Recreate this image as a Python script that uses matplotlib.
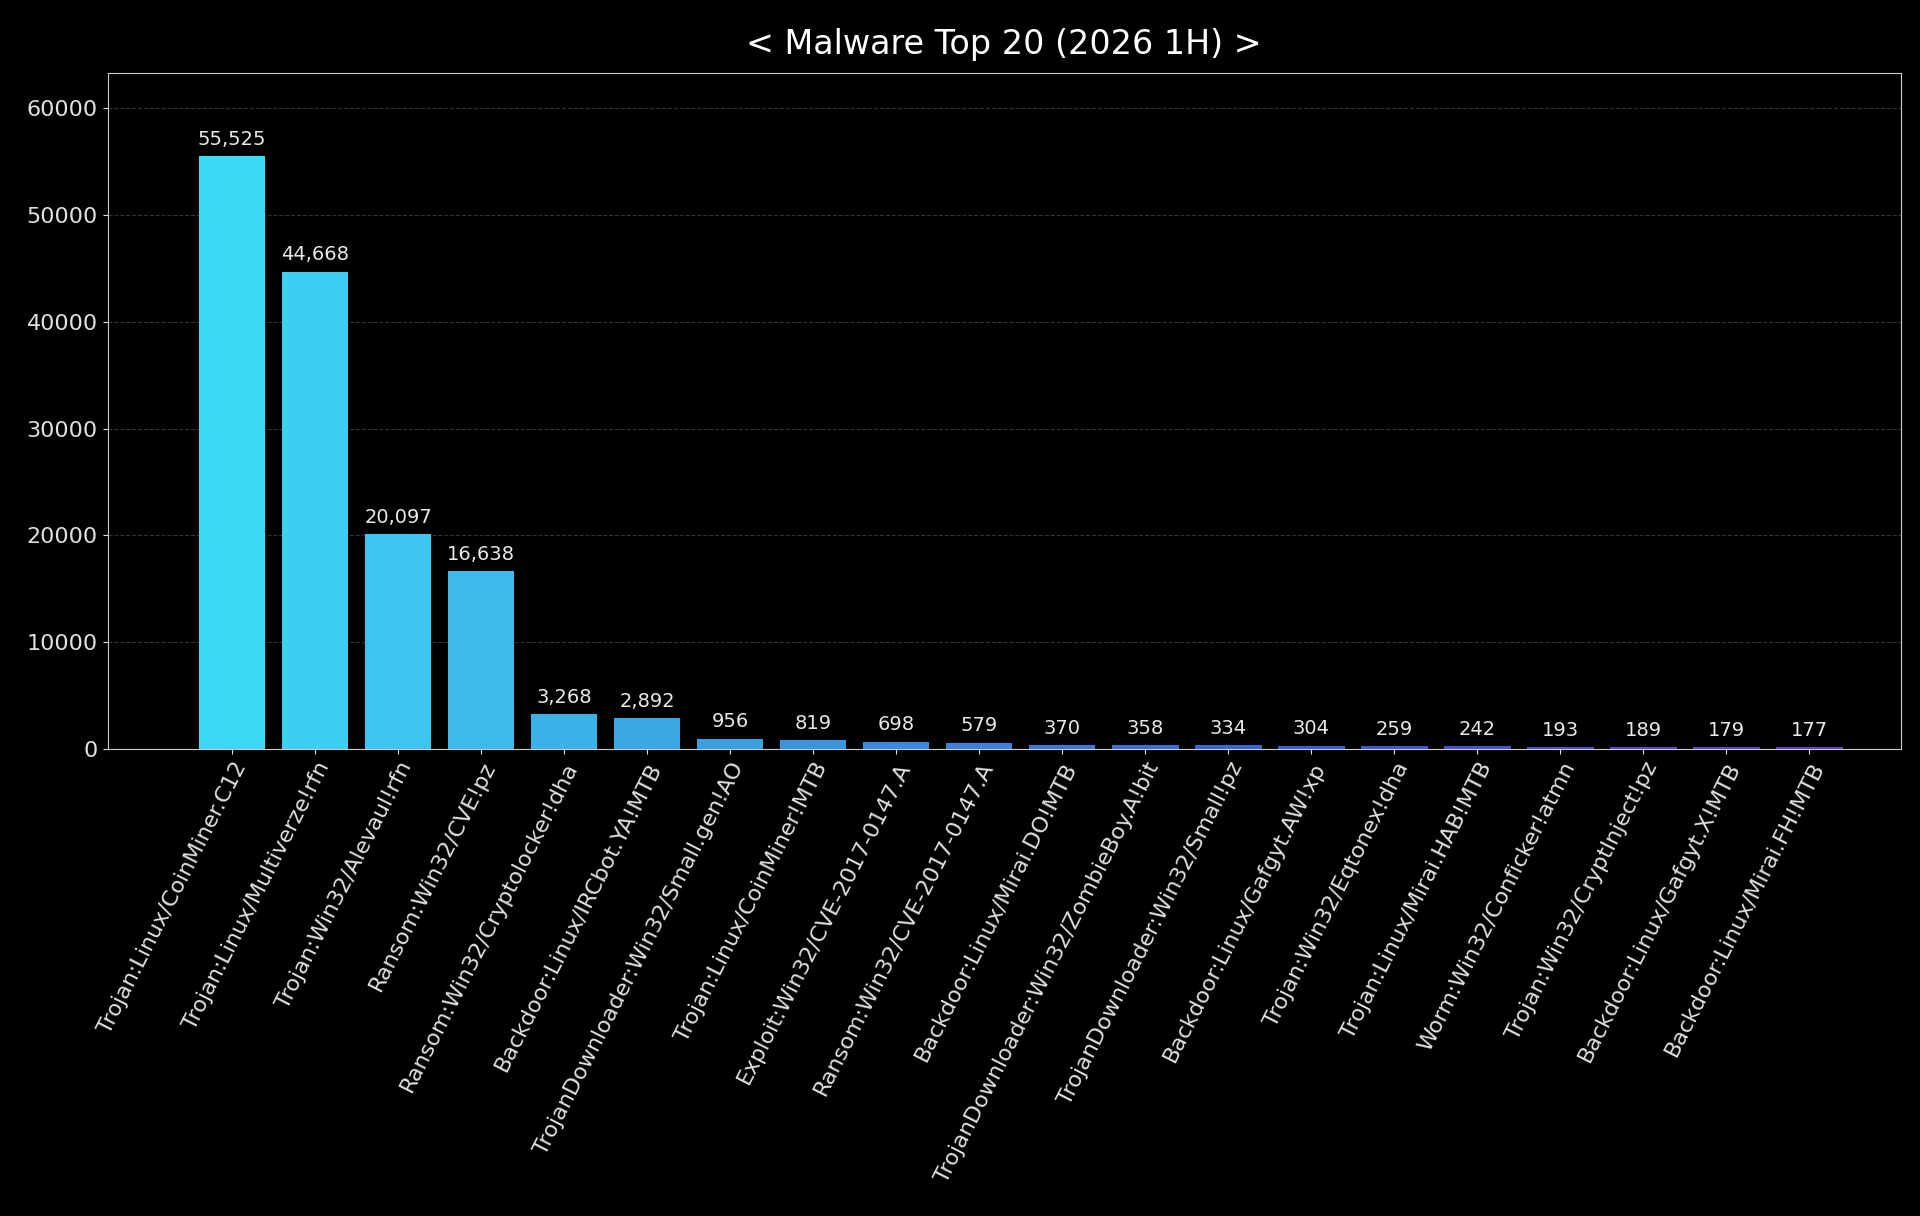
import matplotlib
matplotlib.use("Agg")
import matplotlib.pyplot as plt
import numpy as np
from matplotlib.colors import LinearSegmentedColormap

names = ["Trojan:Linux/CoinMiner.C12", "Trojan:Linux/Multiverze!rfn", "Trojan:Win32/Alevaul!rfn",
         "Ransom:Win32/CVE!pz", "Ransom:Win32/Cryptolocker!dha", "Backdoor:Linux/IRCbot.YA!MTB",
         "TrojanDownloader:Win32/Small.gen!AO", "Trojan:Linux/CoinMiner!MTB", "Exploit:Win32/CVE-2017-0147.A",
         "Ransom:Win32/CVE-2017-0147.A", "Backdoor:Linux/Mirai.DO!MTB", "TrojanDownloader:Win32/ZombieBoy.A!bit",
         "TrojanDownloader:Win32/Small!pz", "Backdoor:Linux/Gafgyt.AW!xp", "Trojan:Win32/Eqtonex!dha",
         "Trojan:Linux/Mirai.HAB!MTB", "Worm:Win32/Conficker!atmn", "Trojan:Win32/CryptInject!pz",
         "Backdoor:Linux/Gafgyt.X!MTB", "Backdoor:Linux/Mirai.FH!MTB"]
counts = [55525, 44668, 20097, 16638, 3268, 2892, 956, 819, 698, 579,
          370, 358, 334, 304, 259, 242, 193, 189, 179, 177]

plt.rcParams['font.family'] = ['DejaVu Sans']
fig = plt.figure(figsize=(19.2, 12.16), dpi=100, facecolor='black')
ax = fig.add_axes([0.056, 0.384, 0.934, 0.556], facecolor='black')

cmap = LinearSegmentedColormap.from_list("g", ["#3dd8f5", "#3a9be0", "#3a5fd8", "#6440c8"])
cols = [cmap(i / (len(counts) - 1)) for i in range(len(counts))]
x = np.arange(len(counts))
bars = ax.bar(x, counts, width=0.8, color=cols, zorder=3)
for xi, v in zip(x, counts):
    ax.text(xi, v + 700, f"{v:,}", ha='center', va='bottom', color='#e8e8e8', fontsize=14)

ax.set_xlim(-1.5, 20.1)
ax.set_ylim(0, 63300)
ax.set_yticks([0, 10000, 20000, 30000, 40000, 50000, 60000])
ax.set_xticks(x)
ax.set_xticklabels(names, rotation=63, ha='right', rotation_mode='anchor', fontsize=16, color='#e0e0e0')
ax.tick_params(axis='y', colors='#e0e0e0', labelsize=16)
ax.tick_params(axis='x', colors='#e0e0e0')
ax.grid(axis='y', linestyle='--', color='#333333', linewidth=0.8, zorder=0)
for s in ax.spines.values():
    s.set_color('#cccccc')
ax.set_title("< Malware Top 20 (2026 1H) >", color='white', fontsize=24, pad=14)
fig.savefig("out.png", dpi=100, facecolor='black')
